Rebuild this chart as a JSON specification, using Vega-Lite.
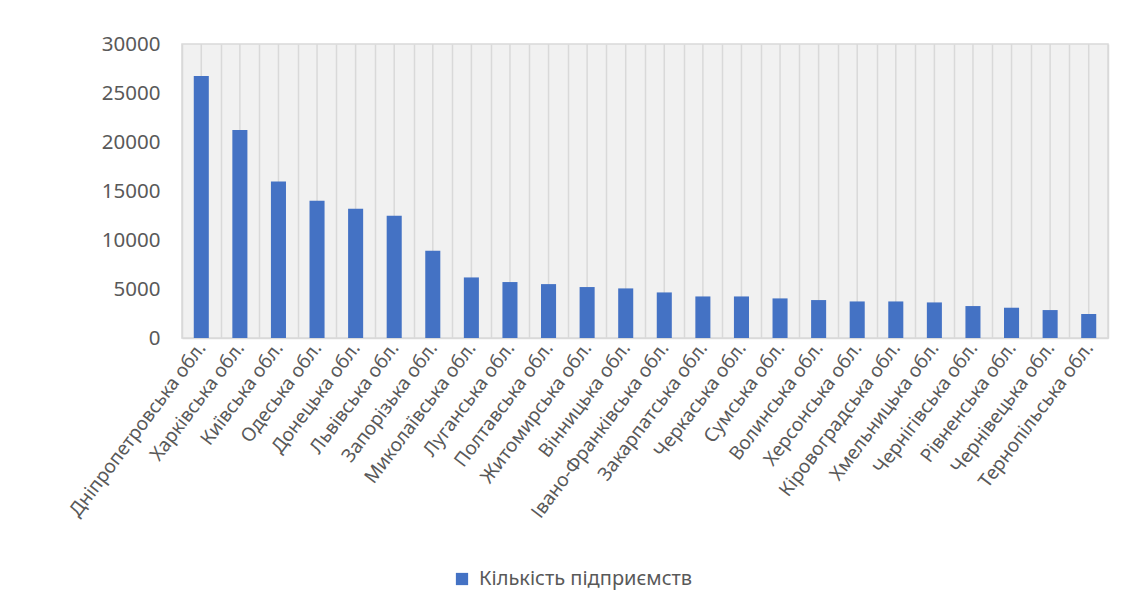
{
  "$schema": "https://vega.github.io/schema/vega-lite/v6.json",
  "autosize": "none",
  "width": 926,
  "height": 294,
  "padding": {"left": 182, "top": 44, "right": 14, "bottom": 275},
  "background": "white",
  "config": {
    "font": "Noto Sans",
    "view": {"fill": "#f1f1f1", "stroke": "#d9d9d9", "strokeWidth": 1.5}
  },
  "data": {
    "values": [
      {"region": "Дніпропетровська обл.", "value": 26740, "series": "Кількість підприємств"},
      {"region": "Харківська обл.", "value": 21230, "series": "Кількість підприємств"},
      {"region": "Київська обл.", "value": 15960, "series": "Кількість підприємств"},
      {"region": "Одеська обл.", "value": 14000, "series": "Кількість підприємств"},
      {"region": "Донецька обл.", "value": 13180, "series": "Кількість підприємств"},
      {"region": "Львівська обл.", "value": 12470, "series": "Кількість підприємств"},
      {"region": "Запорізька обл.", "value": 8900, "series": "Кількість підприємств"},
      {"region": "Миколаївська обл.", "value": 6180, "series": "Кількість підприємств"},
      {"region": "Луганська обл.", "value": 5710, "series": "Кількість підприємств"},
      {"region": "Полтавська обл.", "value": 5500, "series": "Кількість підприємств"},
      {"region": "Житомирська обл.", "value": 5200, "series": "Кількість підприємств"},
      {"region": "Вінницька обл.", "value": 5060, "series": "Кількість підприємств"},
      {"region": "Івано-Франківська обл.", "value": 4650, "series": "Кількість підприємств"},
      {"region": "Закарпатська обл.", "value": 4240, "series": "Кількість підприємств"},
      {"region": "Черкаська обл.", "value": 4240, "series": "Кількість підприємств"},
      {"region": "Сумська обл.", "value": 4040, "series": "Кількість підприємств"},
      {"region": "Волинська обл.", "value": 3870, "series": "Кількість підприємств"},
      {"region": "Херсонська обл.", "value": 3730, "series": "Кількість підприємств"},
      {"region": "Кіровоградська обл.", "value": 3730, "series": "Кількість підприємств"},
      {"region": "Хмельницька обл.", "value": 3630, "series": "Кількість підприємств"},
      {"region": "Чернігівська обл.", "value": 3260, "series": "Кількість підприємств"},
      {"region": "Рівненська обл.", "value": 3090, "series": "Кількість підприємств"},
      {"region": "Чернівецька обл.", "value": 2850, "series": "Кількість підприємств"},
      {"region": "Тернопільська обл.", "value": 2450, "series": "Кількість підприємств"}
    ]
  },
  "encoding": {
    "x": {
      "field": "region",
      "type": "nominal",
      "sort": null,
      "scale": {"paddingInner": 0, "paddingOuter": 0},
      "axis": {
        "title": null,
        "labelAngle": -53,
        "labelAlign": "right",
        "labelBaseline": "middle",
        "labelFontSize": 19,
        "labelLimit": 0,
        "labelColor": "#595959",
        "labelPadding": 6,
        "labelOverlap": false,
        "ticks": false,
        "domainColor": "#d9d9d9",
        "domainWidth": 1.5,
        "grid": true,
        "tickBand": "extent",
        "gridColor": "#d9d9d9",
        "gridWidth": 1.5
      }
    }
  },
  "layer": [
    {
      "mark": {"type": "rule", "color": "#d9d9d9", "strokeWidth": 1.5},
      "encoding": {
        "y": {"datum": 0, "type": "quantitative"},
        "y2": {"datum": 30000}
      }
    },
    {
      "mark": {"type": "bar", "color": "#4472C4", "width": {"band": 0.39}},
      "encoding": {
        "y": {
          "field": "value",
          "type": "quantitative",
          "scale": {"domain": [0, 30000], "nice": false},
          "axis": {
            "title": null,
            "values": [0, 5000, 10000, 15000, 20000, 25000, 30000],
            "format": "d",
            "labelFontSize": 20.5,
            "labelColor": "#595959",
            "labelPadding": 22,
            "ticks": false,
            "domain": false,
            "gridColor": "#d9d9d9",
            "gridWidth": 1.5
          }
        },
        "color": {
          "field": "series",
          "type": "nominal",
          "scale": {"range": ["#4472C4"]},
          "legend": {
            "title": null,
            "orient": "none",
            "legendX": 270,
            "legendY": 525,
            "symbolType": "square",
            "symbolSize": 150,
            "symbolStrokeWidth": 0,
            "labelFontSize": 20,
            "labelLimit": 0,
            "labelColor": "#595959",
            "labelOffset": 7
          }
        }
      }
    }
  ]
}
